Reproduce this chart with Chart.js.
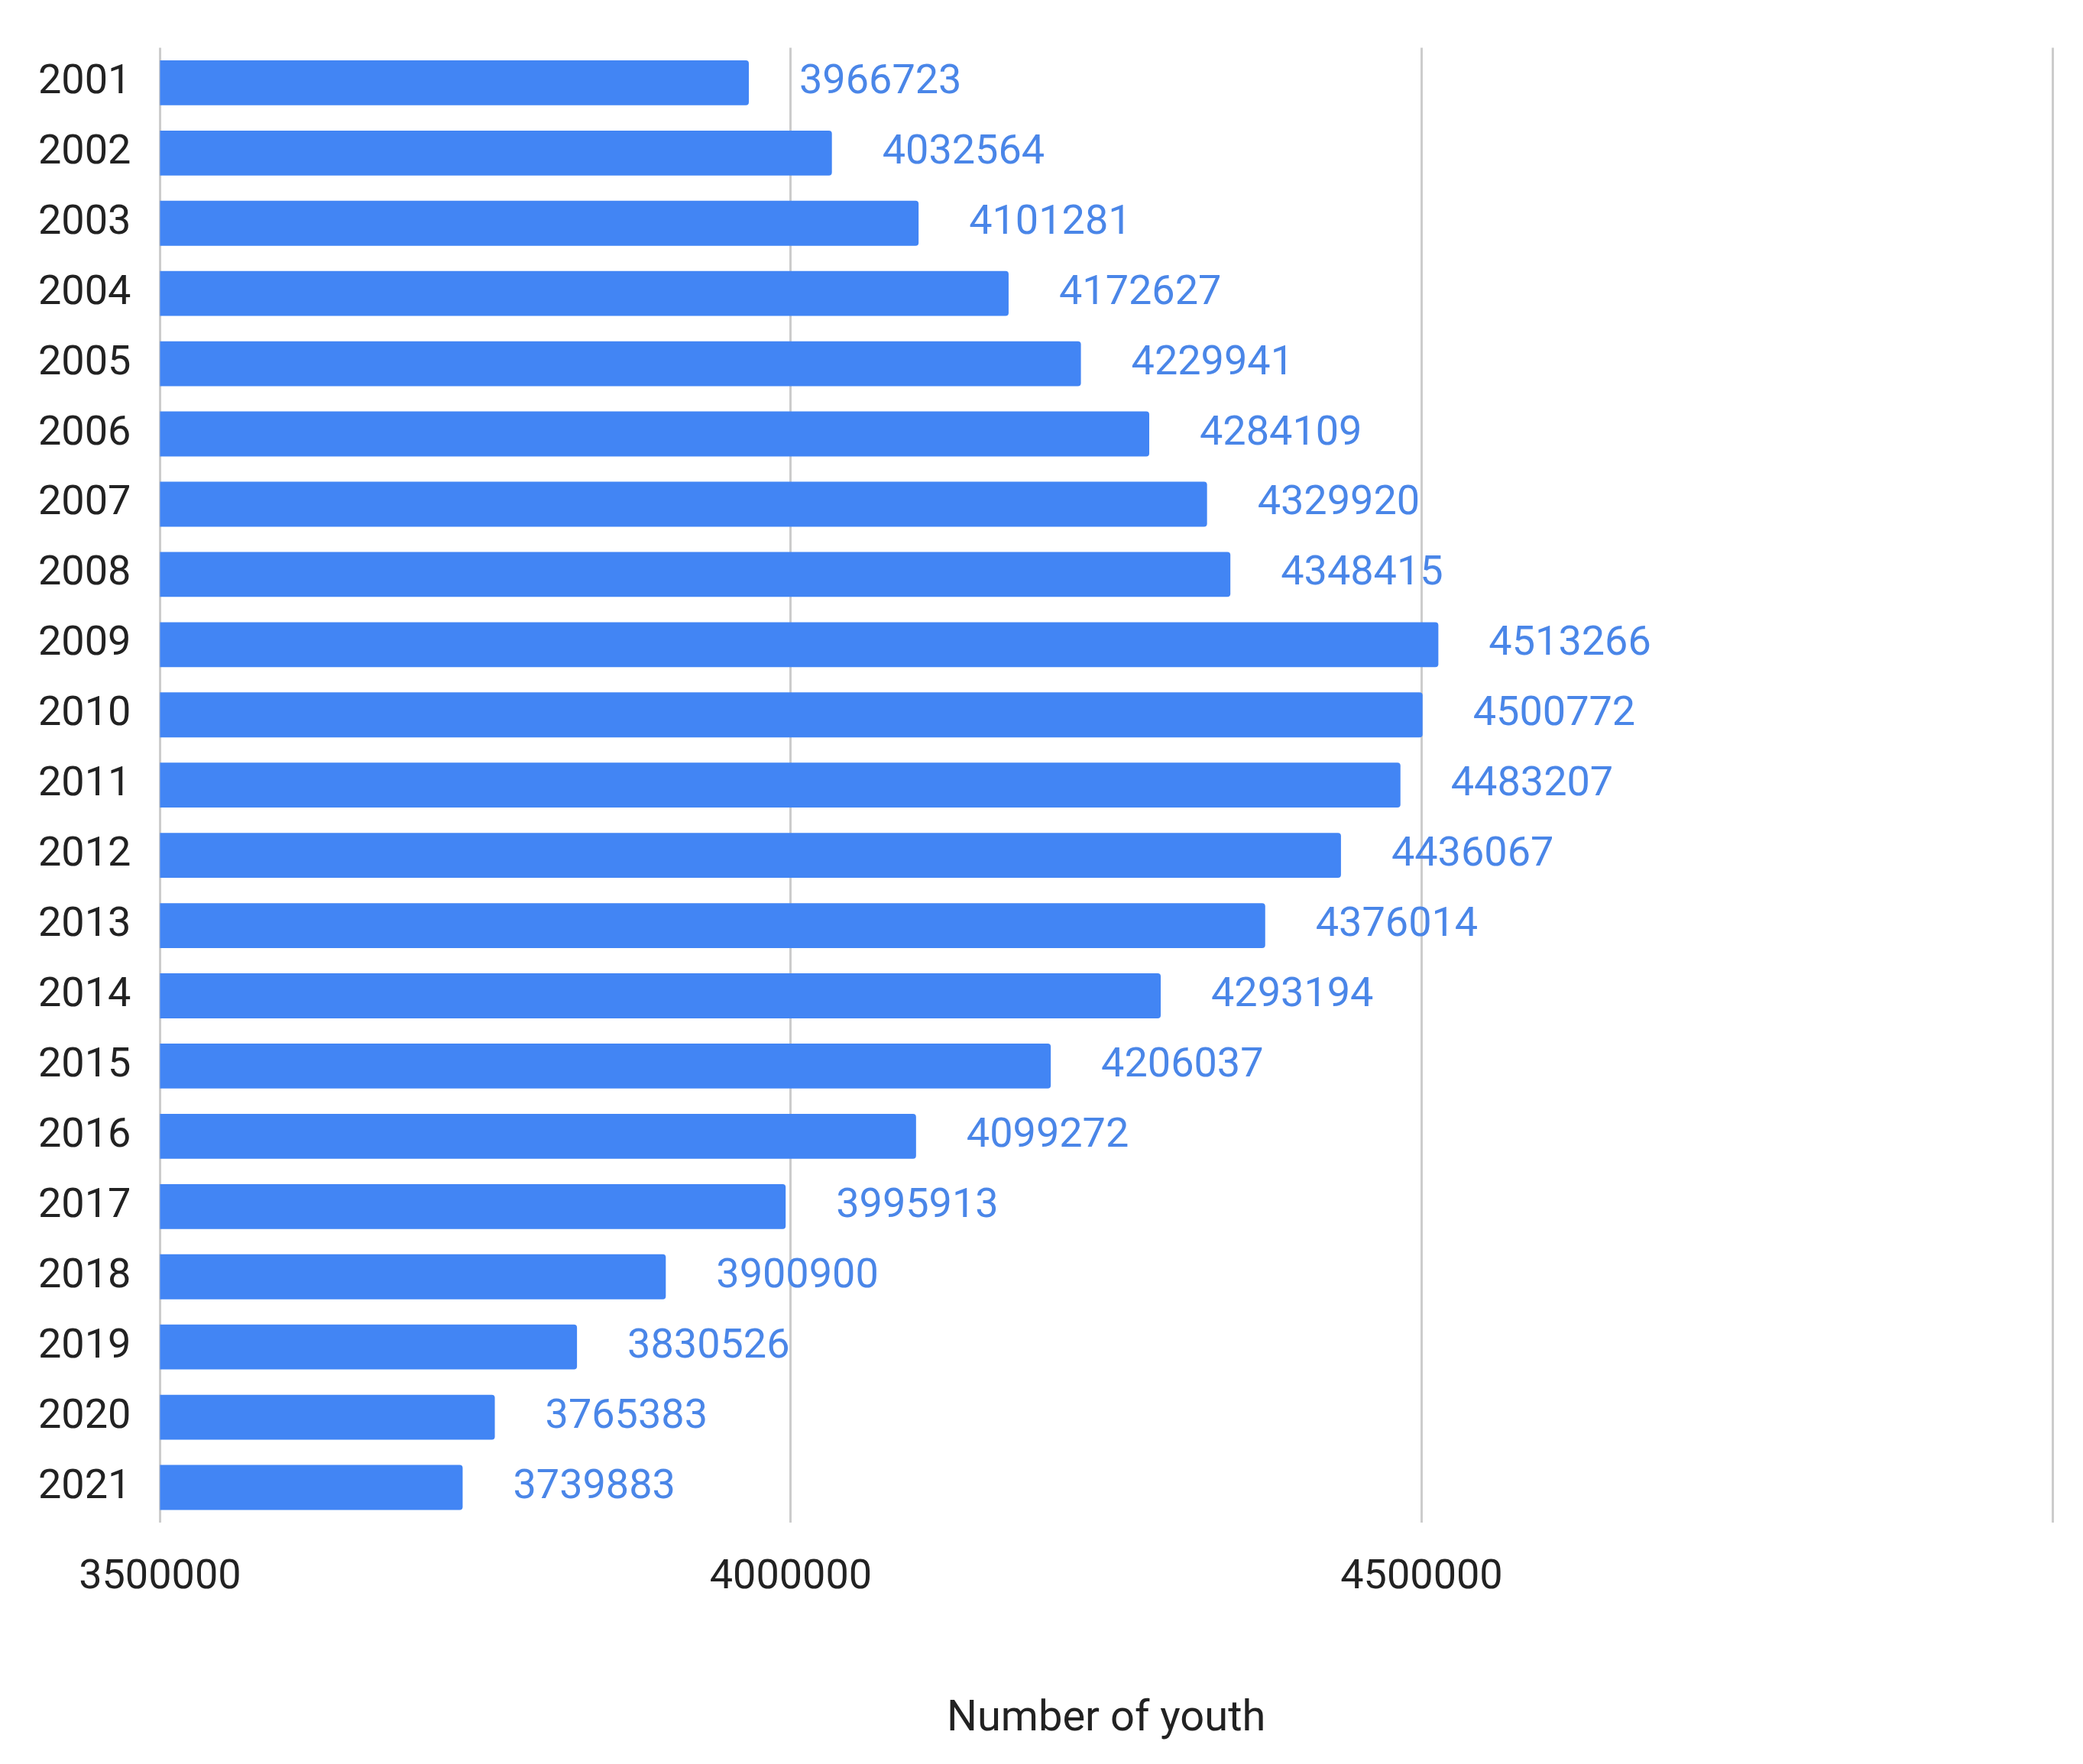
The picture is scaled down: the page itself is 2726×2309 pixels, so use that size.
<!DOCTYPE html>
<html><head><meta charset="utf-8">
<script src="https://cdn.jsdelivr.net/npm/chart.js@4/dist/chart.umd.min.js"></script>
<style>html,body{margin:0;padding:0;background:#fff}#wrap{width:2726px;height:2309px}</style>
</head><body><div id="wrap"><canvas id="c"></canvas></div>
<script>
const years = ['2001','2002','2003','2004','2005','2006','2007','2008','2009','2010','2011','2012','2013','2014','2015','2016','2017','2018','2019','2020','2021'];
const youth = [3966723,4032564,4101281,4172627,4229941,4284109,4329920,4348415,4513266,4500772,4483207,4436067,4376014,4293194,4206037,4099272,3995913,3900900,3830526,3765383,3739883];
const xTicks = [3500000,4000000,4500000,5000000];

// value labels right of each bar
const valueLabels = {
  id: 'valueLabels',
  afterDatasetsDraw(chart) {
    const ctx = chart.ctx;
    const meta = chart.getDatasetMeta(0);
    ctx.save();
    ctx.font = '54px Roboto';
    ctx.fillStyle = '#4a86e8';
    ctx.textBaseline = 'middle';
    meta.data.forEach((bar, i) => ctx.fillText(String(youth[i]), bar.x + 66, bar.y));
    ctx.restore();
  }
};

Chart.defaults.font.family = 'Roboto';
new Chart(document.getElementById('c'), {
  type: 'bar',
  data: { labels: years, datasets: [{ data: youth, backgroundColor: '#4285f4', categoryPercentage: 0.64, barPercentage: 1, borderRadius: {topRight: 4, bottomRight: 4}, borderSkipped: 'start' }] },
  options: {
    indexAxis: 'y', responsive: true, maintainAspectRatio: false, animation: false,
    layout: { padding: { top: 10, right: 18, bottom: 20, left: 20 } },
    plugins: { legend: { display: false }, tooltip: { enabled: false } },
    scales: {
      x: { min: 3500000, max: 5000000,
        afterBuildTicks: s => { s.ticks = xTicks.map(v => ({ value: v })); },
        grid: { color: '#cccccc', lineWidth: 3, drawTicks: false },
        border: { display: false },
        ticks: { font: { size: 54 }, color: '#222', padding: 40, callback: v => v === 5000000 ? '' : String(v) },
        title: { display: true, text: 'Number of youth', font: { size: 56 }, color: '#222', padding: { top: 80 } } },
      y: { grid: { display: false }, border: { display: false },
        ticks: { font: { size: 54 }, color: '#222', padding: 30 } }
    }
  },
  plugins: [valueLabels]
});
</script></body></html>
